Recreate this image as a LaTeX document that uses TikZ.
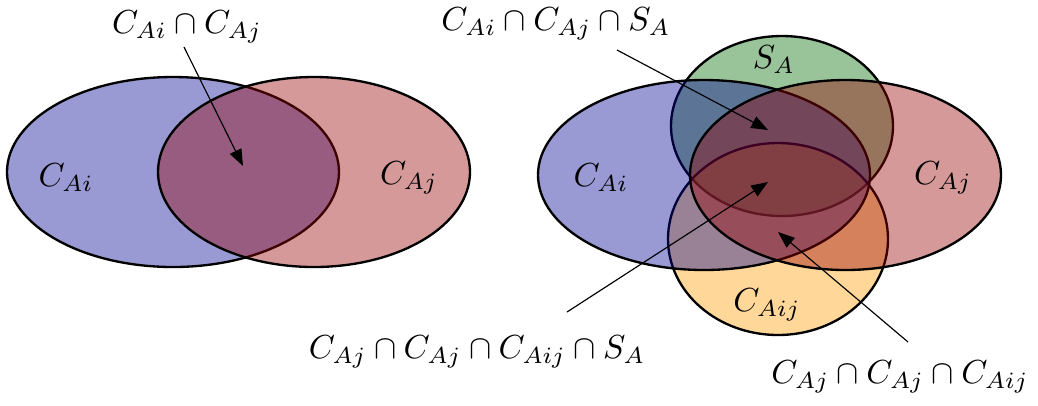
\documentclass[tikz,border=0pt]{standalone}
\usetikzlibrary{arrows.meta}
\definecolor{cblue}{RGB}{0,0,147}
\definecolor{cred}{RGB}{150,0,0}
\definecolor{cgreen}{RGB}{0,105,0}
\definecolor{corange}{RGB}{255,155,0}
\tikzset{
  setshape/.style={draw=black, line width=0.7pt, fill opacity=0.4},
  lbl/.style={inner sep=0pt},
  pointer/.style={line width=0.35pt, -{Triangle[length=5pt,width=3.8pt]}}
}
\begin{document}
\begin{tikzpicture}[x=0.3pt,y=-0.3pt]
\useasboundingbox (0,0) rectangle (1038,405);
% left diagram
\draw[setshape, fill=cblue] (173,172) ellipse [x radius=166, y radius=95];
\draw[setshape, fill=cred] (314,172) ellipse [x radius=156, y radius=95];
\node[lbl] (lAi) at (66,178) {$C_{Ai}$};
\node[lbl] (lAj) at (409,178) {$C_{Aj}$};
\node[lbl] (t1) at (187,27) {$C_{Ai}\cap C_{Aj}$};
\coordinate (s1) at (184,47);
\coordinate (e1) at (243,166);
\draw[pointer] (s1) -- (e1);
% right diagram
\draw[setshape, fill=cgreen] (782,126) ellipse [x radius=111, y radius=90];
\draw[setshape, fill=corange] (778,239) ellipse [x radius=110, y radius=96];
\draw[setshape, fill=cblue] (704,175) ellipse [x radius=166, y radius=95];
\draw[setshape, fill=cred] (845.5,175) ellipse [x radius=155.5, y radius=95];
\node[lbl] (rAi) at (601,178) {$C_{Ai}$};
\node[lbl] (rAj) at (943,178) {$C_{Aj}$};
\node[lbl] (rSA) at (774,60) {$S_A$};
\node[lbl] (rAij) at (767,305) {$C_{Aij}$};
\node[lbl] (t2) at (556,24) {$C_{Ai}\cap C_{Aj}\cap S_A$};
\node[lbl] (t3) at (477,352) {$C_{Aj}\cap C_{Aj}\cap C_{Aij}\cap S_A$};
\node[lbl] (t4) at (900,377) {$C_{Aj}\cap C_{Aj}\cap C_{Aij}$};
\coordinate (s2) at (617,50);
\coordinate (e2) at (768,130);
\coordinate (s3) at (567,312);
\coordinate (e3) at (768,182);
\coordinate (s4) at (908,342);
\coordinate (e4) at (778,232);
\draw[pointer] (s2) -- (e2);
\draw[pointer] (s3) -- (e3);
\draw[pointer] (s4) -- (e4);
\end{tikzpicture}
\end{document}
